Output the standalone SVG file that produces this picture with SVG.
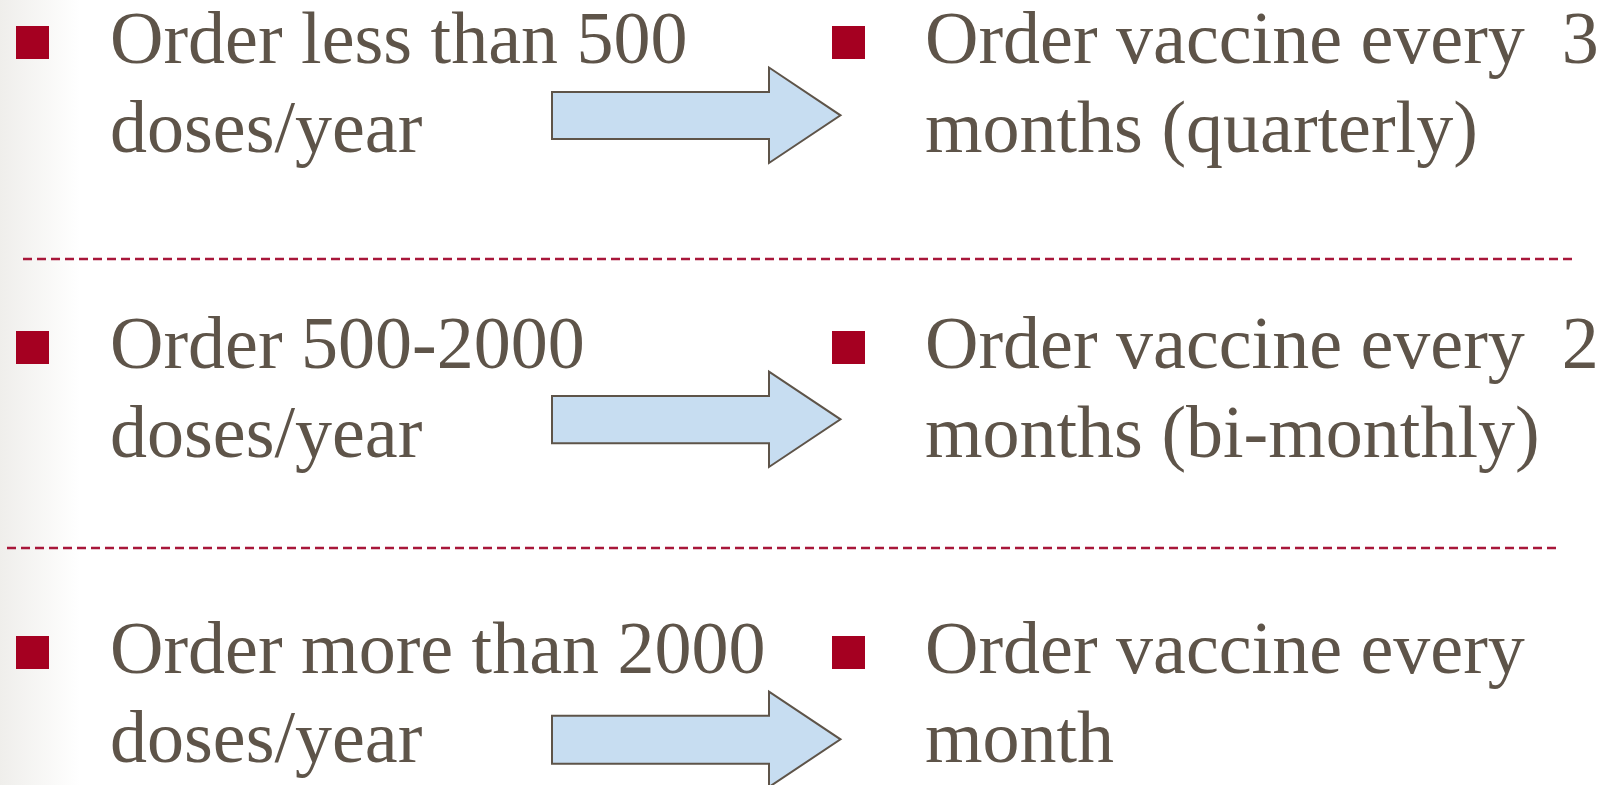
<svg xmlns="http://www.w3.org/2000/svg" width="1621" height="785" viewBox="0 0 1621 785">
<defs>
<linearGradient id="edge" x1="0" y1="0" x2="1" y2="0">
<stop offset="0" stop-color="#efeeeb"/>
<stop offset="1" stop-color="#ffffff"/>
</linearGradient>
<style>
.t{font-family:"Liberation Serif","Times New Roman",serif;font-size:74px;fill:#5E5449;white-space:pre}
.b{fill:#A50021}
.a{fill:#C7DDF1;stroke:#5E5449;stroke-width:2;stroke-linejoin:miter}
.d{stroke:#A8173A;stroke-width:2.6;stroke-dasharray:9 5;fill:none}
</style>
</defs>
<rect x="0" y="0" width="1621" height="785" fill="#ffffff"/>
<rect x="0" y="0" width="80" height="785" fill="url(#edge)"/>
<g id="separators">
<line class="d" x1="23" y1="259" x2="1572" y2="259"/>
<line class="d" x1="7" y1="548" x2="1556" y2="548"/>
</g>
<g id="row1-left">
<rect class="b" x="16" y="26" width="33" height="33"/>
<text class="t" x="110" y="63">Order less than 500</text>
<text class="t" x="110" y="152">doses/year</text>
</g>
<g id="row1-right">
<rect class="b" x="832" y="26" width="33" height="33"/>
<text class="t" x="925" y="63">Order vaccine every  3</text>
<text class="t" x="925" y="152">months (quarterly)</text>
</g>
<g id="row2-left">
<rect class="b" x="16" y="331" width="33" height="33"/>
<text class="t" x="110" y="368">Order 500-2000</text>
<text class="t" x="110" y="457">doses/year</text>
</g>
<g id="row2-right">
<rect class="b" x="832" y="331" width="33" height="33"/>
<text class="t" x="925" y="368">Order vaccine every  2</text>
<text class="t" x="925" y="457">months (bi-monthly)</text>
</g>
<g id="row3-left">
<rect class="b" x="16" y="636" width="33" height="33"/>
<text class="t" x="110" y="673">Order more than 2000</text>
<text class="t" x="110" y="762">doses/year</text>
</g>
<g id="row3-right">
<rect class="b" x="832" y="636" width="33" height="33"/>
<text class="t" x="925" y="673">Order vaccine every</text>
<text class="t" x="925" y="762">month</text>
</g>
<g id="connectors">
<polygon class="a" points="552,92 769,92 769,67.5 840.5,115.3 769,163 769,139 552,139"/>
<polygon class="a" points="552,396 769,396 769,371.7 840.5,419.3 769,467 769,443.3 552,443.3"/>
<polygon class="a" points="552,715.7 769,715.7 769,691.7 840.5,739.3 769,787 769,763.7 552,763.7"/>
</g>
</svg>
